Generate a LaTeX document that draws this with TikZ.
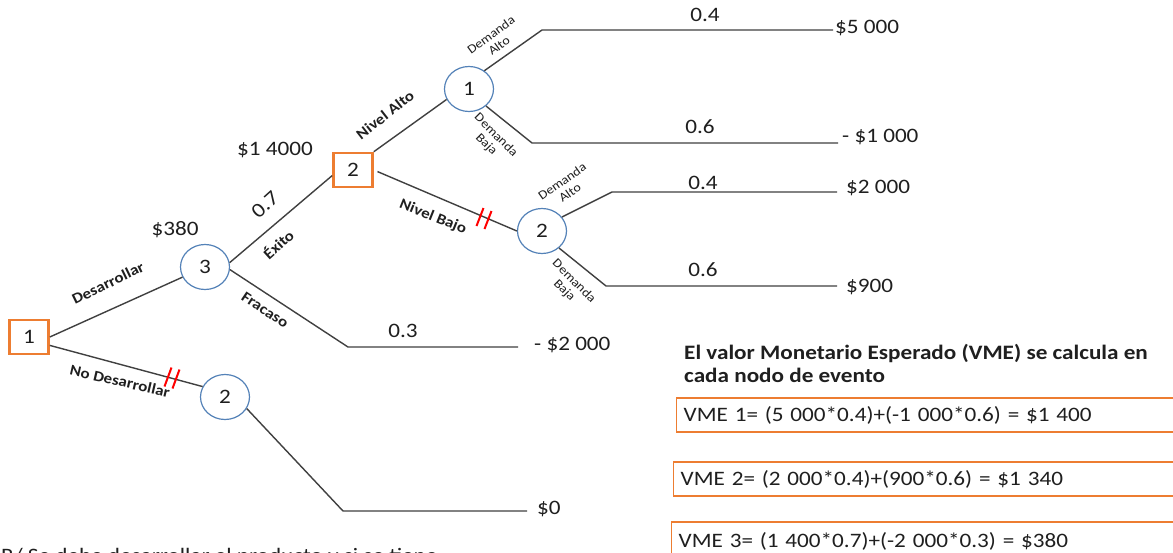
\documentclass[tikz,border=0pt]{standalone}
\usepackage{fontspec}
\setmainfont{Carlito}[FakeStretch=1.13]
\usetikzlibrary{shapes.geometric}
\definecolor{orng}{HTML}{ED7D31}
\definecolor{bl}{HTML}{5482B8}
\definecolor{ln}{HTML}{404040}
\definecolor{txt}{HTML}{1F1F1F}
\newcommand\mainsz{\fontsize{20.5}{23}\selectfont}
\newcommand\lblsz{\fontsize{15}{17}\selectfont}
\newcommand\tinysz{\fontsize{12.5}{13.5}\selectfont}
\begin{document}
\begin{tikzpicture}[x=1pt,y=-1pt,font=\mainsz,text=txt,
  dec/.style={draw=orng,line width=2.6pt,rectangle,minimum width=39pt,minimum height=34pt,inner sep=0pt},
  chance/.style={draw=bl,line width=1.2pt,ellipse,minimum width=49pt,minimum height=45pt,inner sep=0pt},
  conn/.style={draw=ln,line width=1.4pt},
  blbl/.style={font=\lblsz\bfseries,inner sep=0pt},
  dlbl/.style={font=\tinysz,align=center,inner sep=0pt},
  prob/.style={inner sep=0pt},
  endv/.style={anchor=west,inner ysep=0pt},
  brk/.style={draw=red,line width=2pt},
  vme/.style={draw=orng,line width=1.4pt,anchor=west,text width=492pt,align=left,inner xsep=7pt,minimum height=34pt}]
\useasboundingbox[fill=white] (0,0) rectangle (1173,552);

% nodes
\node[dec] (d1) at (29,337) {1};
\node[chance] (c3) at (205,267) {3};
\node[chance] (c2b) at (225,397) {2};
\node[dec] (d2) at (353,170) {2};
\node[chance] (c1) at (469,89) {1};
\node[chance] (c2m) at (542,231) {2};

% corner coordinates
\coordinate (k1) at (542,30);
\coordinate (k2) at (532,143);
\coordinate (k3) at (612,192);
\coordinate (k4) at (606,286);
\coordinate (kf) at (348,347);
\coordinate (k0) at (343,511);

% end values
\node[endv,inner xsep=2pt] (v1) at (833,28) {\$5 000};
\node[endv,inner xsep=4pt] (v2) at (838,137) {- \$1 000};
\node[endv,inner xsep=9pt] (v3) at (837,188) {\$2 000};
\node[endv,inner xsep=9pt] (v4) at (837,287) {\$900};
\node[endv,inner xsep=16pt] (v5) at (518,345) {- \$2 000};
\node[endv,inner xsep=10pt] (v6) at (527,509) {\$0};

% connectors
\draw[conn] (d1.east) -- (c3);
\draw[conn] (d1.-22) -- (c2b.155);
\draw[conn] (c2b.-28) -- (k0) -- (k0 -| v6.west);
\draw[conn] (c3.10) -- (d2.-165);
\draw[conn] (c3.-6) -- (kf) -- (kf -| v5.west);
\draw[conn] (d2.north east) -- (c1.-155);
\draw[conn,shorten <=4pt] (d2.east) -- (c2m.west);
\draw[conn] (c1.50) -- (k1) -- (k1 -| v1.west);
\draw[conn] (c1.-45) -- (k2) -- (k2 -| v2.west);
\draw[conn] (c2m.35) -- (k3) -- (k3 -| v3.west);
\draw[conn] (c2m.-45) -- (k4) -- (k4 -| v4.west);

% break marks
\draw[brk] (168,377) ++(-3.5,9.5) -- ++(7,-19);
\draw[brk] (176,379) ++(-3.5,9.5) -- ++(7,-19);
\draw[brk] (480,217) ++(-3.5,9) -- ++(7,-18);
\draw[brk] (488,220) ++(-3.5,9) -- ++(7,-18);

% branch labels
\node[blbl,rotate=26] (l1) at (108,283) {Desarrollar};
\node[blbl,rotate=-13] (l2) at (120,381) {No Desarrollar};
\node[blbl,rotate=42] (l3) at (278,244) {Éxito};
\node[blbl,rotate=-34] (l4) at (265,310) {Fracaso};
\node[blbl,rotate=38] (l5) at (385,115) {Nivel Alto};
\node[blbl,rotate=-22] (l6) at (433,217) {Nivel Bajo};
\node[dlbl,rotate=36] (l7) at (495,40) {Demanda\\Alto};
\node[dlbl,rotate=-45] (l8) at (491,140) {Demanda\\Baja};
\node[dlbl,rotate=35] (l9) at (566,187) {Demanda\\Alto};
\node[dlbl,rotate=-45] (l10) at (569,286) {Demanda\\Baja};

% probabilities and values
\node[prob] (p1) at (705,15) {0.4};
\node[prob] (p2) at (700,127) {0.6};
\node[prob] (p3) at (703,183) {0.4};
\node[prob] (p4) at (703,270) {0.6};
\node[prob] (p5) at (403,331) {0.3};
\node[prob,rotate=42] (p6) at (265,205) {0.7};
\node[prob] (e1) at (275,150) {\$1 4000};
\node[prob] (e2) at (175,230) {\$380};

% explanation
\node[anchor=base west,inner sep=0pt,font=\mainsz\bfseries] (h1) at (684,359) {El valor Monetario Esperado (VME) se calcula en};
\node[anchor=base west,inner sep=0pt,font=\mainsz\bfseries] (h2) at (684,382) {cada nodo de evento};
\node[vme] (b1) at (676,415) {VME 1= (5 000*0.4)+(-1 000*0.6) = \$1 400};
\node[vme] (b2) at (673,479) {VME 2= (2 000*0.4)+(900*0.6) = \$1 340};
\node[vme,minimum height=38pt] (b3) at (671,541) {VME 3= (1 400*0.7)+(-2 000*0.3) = \$380};
\node[anchor=base west,inner sep=0pt] (ans) at (1,562) {R/ Se debe desarrollar el producto y si se tiene};
\end{tikzpicture}
\end{document}
